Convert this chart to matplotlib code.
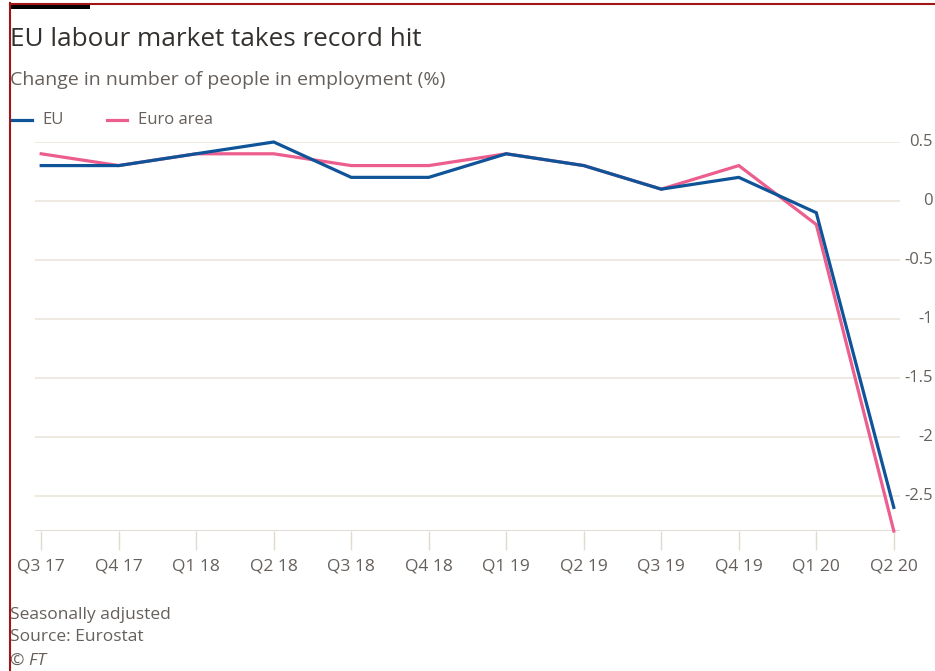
import matplotlib
matplotlib.use("Agg")
import matplotlib.pyplot as plt
from matplotlib.lines import Line2D
from matplotlib.patches import Rectangle
from matplotlib.transforms import blended_transform_factory

quarters = ["Q3 17", "Q4 17", "Q1 18", "Q2 18", "Q3 18", "Q4 18",
            "Q1 19", "Q2 19", "Q3 19", "Q4 19", "Q1 20", "Q2 20"]
eu = [0.3, 0.3, 0.4, 0.5, 0.2, 0.2, 0.4, 0.3, 0.1, 0.2, -0.1, -2.6]
euro_area = [0.4, 0.3, 0.4, 0.4, 0.3, 0.3, 0.4, 0.3, 0.1, 0.3, -0.2, -2.8]
yticks = [0.5, 0, -0.5, -1, -1.5, -2, -2.5]
ytick_labels = ["0.5", "0", "-0.5", "-1", "-1.5", "-2", "-2.5"]

W, H = 935, 671
plt.rcParams['font.family'] = ['Open Sans', 'DejaVu Sans']
fig = plt.figure(figsize=(W / 100, H / 100), dpi=100)
fig.patch.set_facecolor('white')

def fx(px):
    return px / W

def fy(py):
    return 1 - py / H

ax = fig.add_axes([fx(35), fy(531), fx(900) - fx(35), fy(142) - fy(531)])
ax.set_facecolor('white')
x = list(range(len(quarters)))
ax.plot(x, euro_area, color='#eb5e8d', lw=2.3, clip_on=False, zorder=3, solid_joinstyle='miter')
ax.plot(x, eu, color='#0f5499', lw=2.3, clip_on=False, zorder=4, solid_joinstyle='miter')
ax.set_xlim(-0.08, 11.08)
ax.set_ylim(-2.8, 0.5)

for v in yticks:
    ax.axhline(v, color='#ece6dc', lw=1.2, zorder=1)
ax.axhline(-2.8, color='#e2dbd0', lw=1.4, zorder=1)
for s in ax.spines.values():
    s.set_visible(False)
ax.set_yticks([])
ax.set_xticks(x)
ax.set_xticklabels(quarters, fontsize=12.5, color='#66605c')
ax.tick_params(axis='x', length=14, width=1, color='#e2dbd0', pad=6)

# right-hand y labels
trans = blended_transform_factory(fig.transFigure, ax.transData)
for v, lab in zip(yticks, ytick_labels):
    ax.text(fx(933), v, lab, transform=trans, ha='right', va='center',
            fontsize=12, color='#66605c')

fig.text(fx(10), fy(39), "EU labour market takes record hit", fontsize=18.8,
         color='#33302e', va='center', ha='left')
fig.text(fx(10), fy(80), "Change in number of people in employment (%)", fontsize=14,
         color='#66605c', va='center', ha='left')

# legend
fig.add_artist(Line2D([fx(12), fx(32)], [fy(120), fy(120)], color='#0f5499', lw=2.3))
fig.text(fx(42), fy(120), "EU", fontsize=12, color='#66605c', va='center')
fig.add_artist(Line2D([fx(107), fx(127)], [fy(120), fy(120)], color='#eb5e8d', lw=2.3))
fig.text(fx(138), fy(120), "Euro area", fontsize=12, color='#66605c', va='center')

# footer
fig.text(fx(10), fy(615), "Seasonally adjusted", fontsize=12.5, color='#66605c', va='center')
fig.text(fx(10), fy(637), "Source: Eurostat", fontsize=12.5, color='#66605c', va='center')
fig.text(fx(10), fy(661), "© FT", fontsize=12.5, color='#66605c', va='center', style='italic')

# frame decoration
fig.add_artist(Line2D([fx(9.5), fx(9.5)], [0, fy(3)], color='#a31515', lw=1.5))
fig.add_artist(Line2D([fx(9.5), 1], [fy(3.5), fy(3.5)], color='#a31515', lw=1.5))
fig.add_artist(Rectangle((fx(10), fy(9)), fx(90) - fx(10), fy(3) - fy(9),
                         transform=fig.transFigure, color='black', lw=0))

fig.savefig("out.png", dpi=100, facecolor='white')
